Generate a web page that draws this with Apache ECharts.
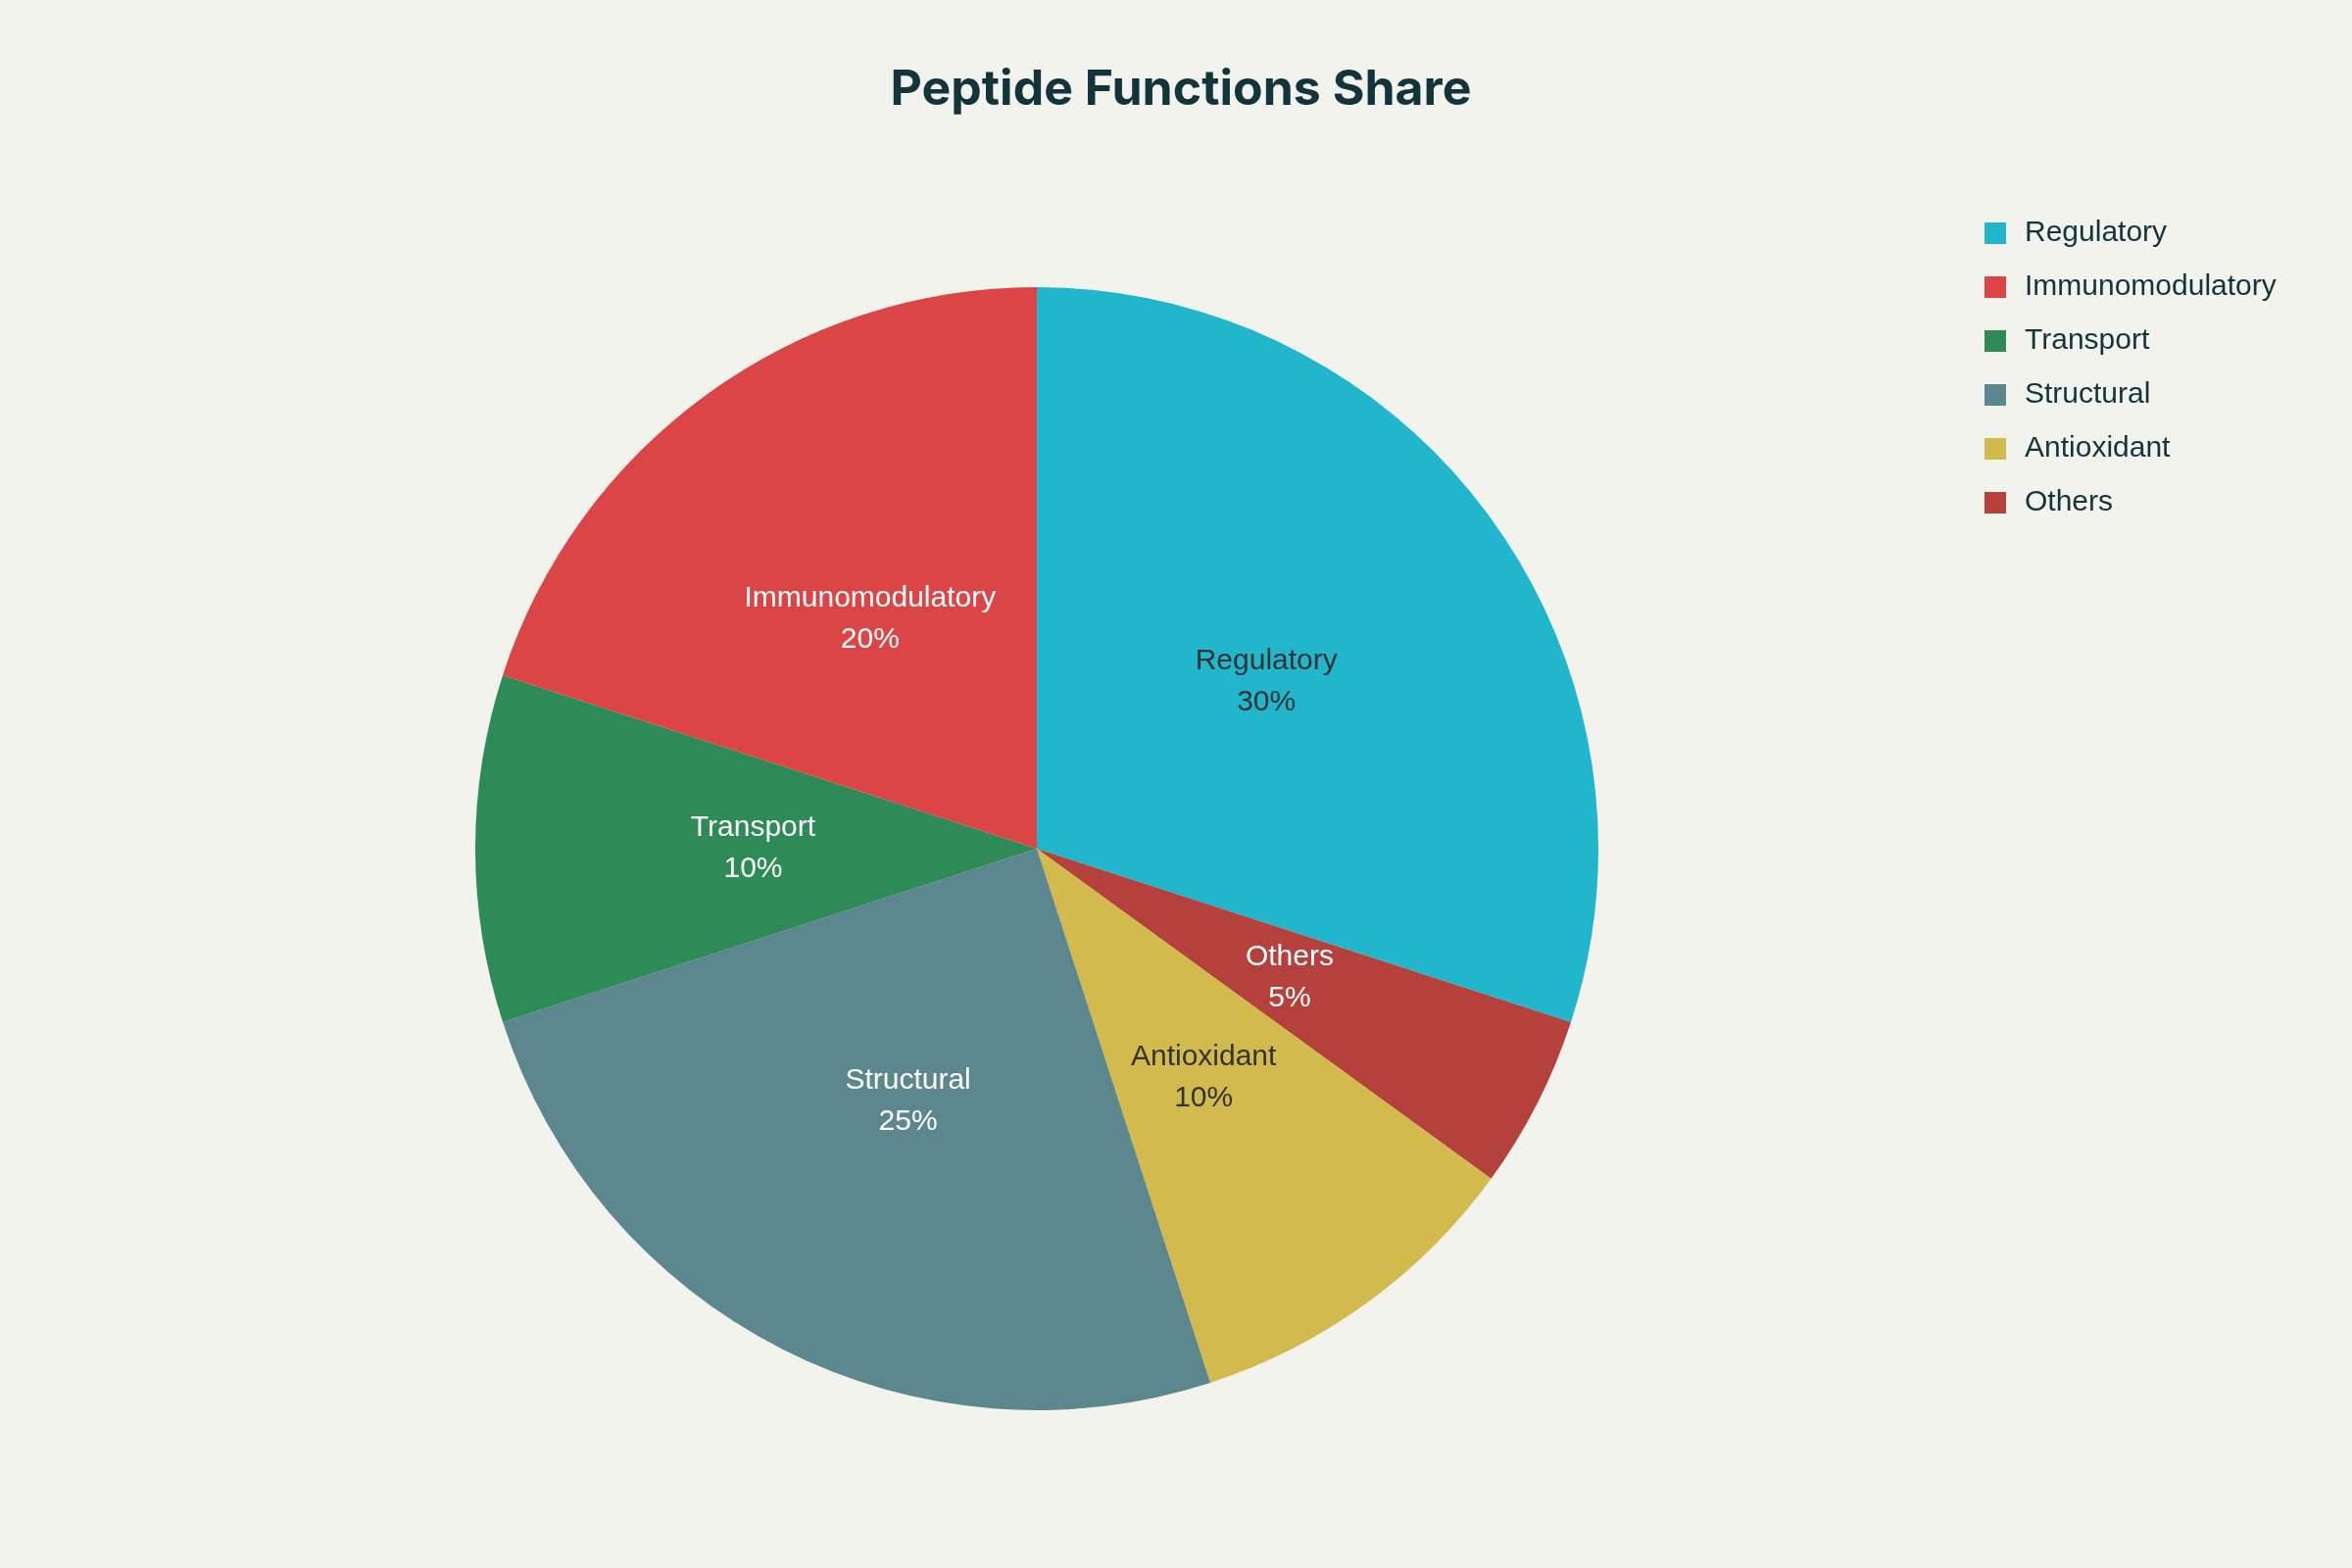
<!DOCTYPE html>
<html><head><meta charset="utf-8">
<script src="https://cdn.jsdelivr.net/npm/echarts@6/dist/echarts.min.js"></script>
<style>html,body{margin:0;padding:0;background:#F3F3EE}#c{width:2400px;height:1600px}</style>
</head><body><div id="c"></div>
<script>
const categories = ["Regulatory","Others","Antioxidant","Structural","Transport","Immunomodulatory"];
const values = [30,5,10,25,10,20];
const colors = ["#21B6CC","#B4413C","#D2BA4C","#5D878F","#2E8B57","#DB4545"];
const labelColors = ["#333333","#ffffff","#333333","#ffffff","#ffffff","#ffffff"];
const legendOrder = ["Regulatory","Immunomodulatory","Transport","Structural","Antioxidant","Others"];
const chart = echarts.init(document.getElementById('c'));
chart.setOption({
  backgroundColor:'#F3F3EE',
  title:{text:'Peptide Functions Share',left:1200,top:62,textAlign:'center',
    textStyle:{fontFamily:'Inter, Liberation Sans, sans-serif',fontSize:50,fontWeight:'bold',color:'#13343B'}},
  legend:{orient:'vertical',left:2020,top:218,itemWidth:22,itemHeight:22,itemGap:25,icon:'rect',
    data:legendOrder,textStyle:{fontFamily:'Liberation Sans, sans-serif',fontSize:30,color:'#13343B',padding:[0,0,0,14]}},
  series:[{type:'pie',center:[1058,866],radius:[0,573],startAngle:90,clockwise:true,
    data:categories.map((c,i)=>({name:c,value:values[i],itemStyle:{color:colors[i]},
      label:{color:labelColors[i]}})),
    label:{show:true,position:'inside',formatter:'{b}\n{d}%',fontFamily:'Liberation Sans, sans-serif',fontSize:30,lineHeight:42},
    labelLine:{show:false},emphasis:{disabled:true}}]
});
</script></body></html>
